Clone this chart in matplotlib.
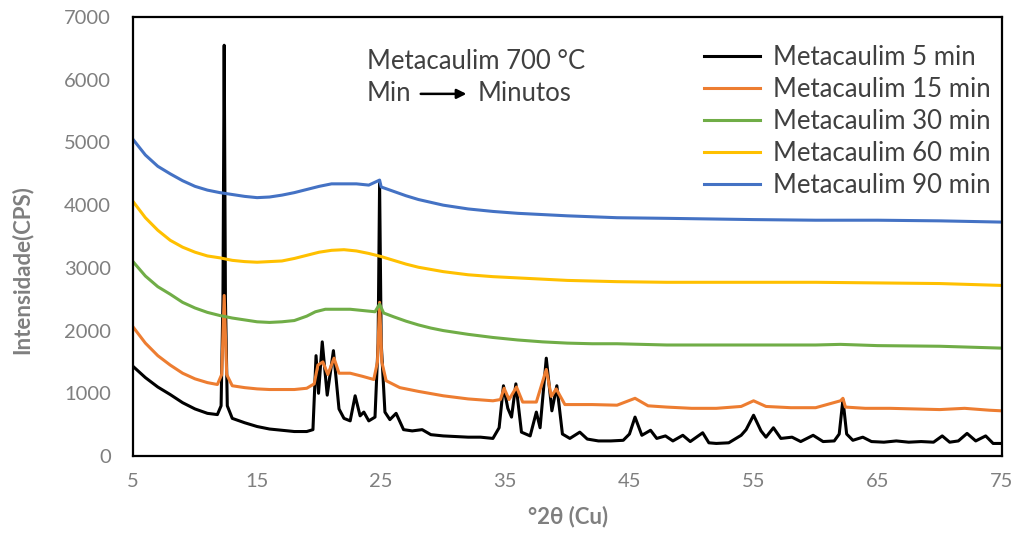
import matplotlib
matplotlib.use("Agg")
import matplotlib.pyplot as plt

plt.rcParams['font.family'] = ['Lato', 'DejaVu Sans']

# ---- data ----
x_5 = [5, 6, 7, 8, 9, 10, 11, 11.8, 12.1, 12.25, 12.35, 12.45, 12.6, 13, 14, 15, 16, 17, 18, 19,
       19.5, 19.75, 19.95, 20.25, 20.65, 21.15, 21.6, 22.0, 22.5, 22.9, 23.3, 23.6, 24.0, 24.5,
       24.75, 24.87, 25.0, 25.3, 25.7, 26.2, 26.8, 27.5, 28.3, 29.0, 30, 31, 32, 33, 34, 34.5,
       34.85, 35.2, 35.5, 35.85, 36.3, 37.0, 37.5, 37.8, 38.3, 38.75, 39.15, 39.6, 40.2, 41.0,
       41.6, 42.5, 43.5, 44.5, 45.0, 45.45, 46.0, 46.7, 47.2, 47.9, 48.5, 49.3, 49.9, 50.9, 51.4,
       52, 53, 54, 54.4, 55.0, 55.6, 56.0, 56.6, 57.2, 58.1, 58.8, 59.8, 60.6, 61.5, 61.9, 62.2,
       62.5, 63.0, 63.8, 64.5, 65.5, 66.5, 67.5, 68.5, 69.5, 70.2, 70.8, 71.5, 72.2, 72.9, 73.7,
       74.3, 75]
y_5 = [1430, 1250, 1100, 980, 850, 750, 680, 660, 800, 2500, 6550, 2500, 800, 600, 530, 470, 430,
       410, 390, 390, 420, 1600, 1000, 1820, 970, 1680, 750, 600, 560, 960, 640, 700, 560, 620,
       1800, 4350, 1800, 700, 580, 680, 420, 400, 420, 340, 320, 310, 300, 300, 280, 450, 1120,
       760, 620, 1150, 380, 320, 700, 450, 1560, 720, 1120, 350, 280, 380, 270, 240, 240, 250,
       350, 620, 330, 410, 280, 320, 240, 330, 230, 370, 210, 200, 210, 330, 420, 650, 400, 300,
       450, 280, 300, 230, 330, 230, 240, 350, 900, 350, 250, 300, 230, 220, 240, 220, 230, 220,
       320, 220, 240, 360, 240, 320, 200, 200]

x_15 = [5, 6, 7, 8, 9, 10, 11, 11.8, 12.15, 12.35, 12.55, 13, 14, 15, 16, 17, 18, 19, 19.6, 19.9,
        20.3, 20.7, 21.2, 21.6, 22.5, 23.5, 24.4, 24.7, 24.87, 25.05, 25.4, 26.5, 28, 30, 32, 34,
        34.6, 34.9, 35.3, 35.9, 36.4, 37.5, 38.3, 38.7, 39.1, 39.8, 42, 44, 45.45, 46.5, 48, 50,
        52, 54, 55.0, 56, 58, 60, 62.0, 62.2, 62.4, 64, 66, 68, 70, 72, 74, 75]
y_15 = [2060, 1800, 1600, 1450, 1320, 1230, 1170, 1140, 1300, 2560, 1300, 1120, 1090, 1070, 1060,
        1060, 1060, 1080, 1150, 1450, 1500, 1300, 1560, 1320, 1320, 1270, 1220, 1500, 2450, 1500,
        1200, 1090, 1030, 960, 910, 880, 900, 1080, 900, 1100, 860, 860, 1380, 950, 1070, 820,
        820, 810, 920, 800, 780, 760, 760, 790, 880, 790, 770, 770, 880, 920, 780, 760, 760, 750,
        740, 760, 730, 720]

x_30 = [5, 6, 7, 8, 9, 10, 11, 12, 13, 14, 15, 16, 17, 18, 19, 19.7, 20.5, 21.5, 22.5, 23.5,
        24.5, 24.87, 25.2, 26, 27, 28, 29, 30, 32, 34, 36, 38, 40, 42, 44, 46, 48, 50, 55, 60,
        62, 65, 70, 75]
y_30 = [3100, 2870, 2700, 2580, 2450, 2360, 2290, 2240, 2200, 2170, 2140, 2130, 2140, 2160, 2230,
        2300, 2340, 2340, 2340, 2320, 2300, 2420, 2280, 2220, 2150, 2090, 2040, 2000, 1940, 1890,
        1850, 1820, 1800, 1790, 1790, 1780, 1770, 1770, 1770, 1770, 1780, 1760, 1750, 1720]

x_60 = [5, 6, 7, 8, 9, 10, 11, 12, 13, 14, 15, 16, 17, 18, 19, 20, 21, 22, 23, 24, 25, 26, 27,
        28, 30, 32, 34, 36, 38, 40, 44, 48, 55, 60, 65, 70, 75]
y_60 = [4060, 3800, 3600, 3440, 3330, 3250, 3190, 3160, 3120, 3100, 3090, 3100, 3110, 3150, 3200,
        3250, 3280, 3290, 3270, 3230, 3180, 3120, 3060, 3010, 2940, 2890, 2860, 2840, 2820, 2800,
        2780, 2770, 2770, 2770, 2760, 2750, 2720]

x_90 = [5, 6, 7, 8, 9, 10, 11, 12, 13, 14, 15, 16, 17, 18, 19, 20, 21, 22, 23, 24, 24.87, 25,
        26, 27, 28, 30, 32, 34, 36, 38, 40, 44, 48, 55, 60, 65, 70, 75]
y_90 = [5050, 4800, 4620, 4500, 4390, 4300, 4240, 4200, 4170, 4140, 4120, 4130, 4160, 4200, 4250,
        4300, 4340, 4340, 4340, 4320, 4400, 4290, 4220, 4150, 4090, 4000, 3940, 3900, 3870, 3850,
        3830, 3800, 3790, 3770, 3760, 3760, 3750, 3730]

labels = ["Metacaulim 5 min", "Metacaulim 15 min", "Metacaulim 30 min",
          "Metacaulim 60 min", "Metacaulim 90 min"]
colors = ["#000000", "#ED7D31", "#70AD47", "#FFC000", "#4472C4"]
x_ticks = [5, 15, 25, 35, 45, 55, 65, 75]
y_ticks = [0, 1000, 2000, 3000, 4000, 5000, 6000, 7000]

# ---- figure ----
fig = plt.figure(figsize=(10.15, 5.33), dpi=100)
ax = fig.add_axes([0.131, 0.1445, 0.856, 0.8235])

series = [(x_5, y_5), (x_15, y_15), (x_30, y_30), (x_60, y_60), (x_90, y_90)]
for (xs, ys), lab, col in zip(series, labels, colors):
    ax.plot(xs, ys, color=col, lw=2.2, label=lab, solid_joinstyle='round')

ax.set_xlim(5, 75)
ax.set_ylim(0, 7000)
ax.set_xticks(x_ticks)
ax.set_yticks(y_ticks)
ax.tick_params(axis='y', length=0, labelsize=14.5, colors='#7f7f7f', pad=16)
ax.tick_params(axis='x', length=0, labelsize=14.5, colors='#7f7f7f', pad=12)
for s in ax.spines.values():
    s.set_color('black')
    s.set_linewidth(1.6)

ax.set_xlabel("°2θ (Cu)", fontsize=16, color='#7f7f7f', fontweight='bold')
ax.xaxis.set_label_coords(0.5006, -0.139)
ax.xaxis.label.set_va('center')
ax.set_ylabel("Intensidade(CPS)", fontsize=16, color='#7f7f7f', fontweight='bold')
ax.yaxis.set_label_coords(-0.128, 0.424)
ax.yaxis.label.set_va('center')

leg = ax.legend(loc='upper right', bbox_to_anchor=(1.005, 0.972), frameon=False,
                fontsize=18.5, handlelength=2.2, handletextpad=0.5, labelspacing=0.27,
                borderaxespad=0.2)
for t in leg.get_texts():
    t.set_color('#404040')

ax.text(0.269, 0.898, "Metacaulim 700 °C", transform=ax.transAxes, fontsize=18.5,
        color='#404040', va='center', ha='left')
ax.text(0.269, 0.825, "Min", transform=ax.transAxes, fontsize=18.5,
        color='#404040', va='center', ha='left')
ax.text(0.397, 0.825, "Minutos", transform=ax.transAxes, fontsize=18.5,
        color='#404040', va='center', ha='left')
ax.annotate("", xy=(0.387, 0.825), xytext=(0.328, 0.825), xycoords='axes fraction',
            arrowprops=dict(arrowstyle='-|>', color='black', lw=1.8, mutation_scale=14))

fig.savefig("out.png", dpi=100)
